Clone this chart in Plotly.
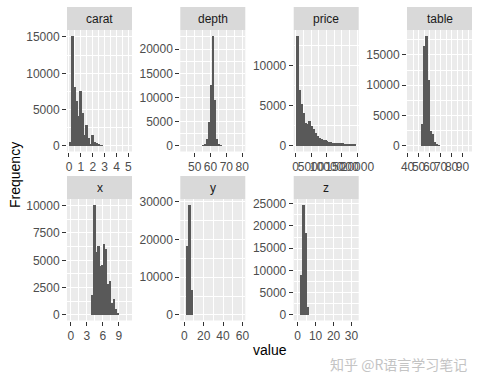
import math
import plotly.graph_objects as go

# ---------------- data ----------------
panels = ["carat", "depth", "price", "table", "x", "y", "z"]

# data range of each variable (used for ggplot-like 30-bin breaks)
range_carat = [0.2, 5.01]
range_depth = [43.0, 79.0]
range_price = [326.0, 18823.0]
range_table = [43.0, 95.0]
range_x = [0.0, 10.74]
range_y = [0.0, 58.9]
range_z = [0.0, 31.8]

# bin counts (bins too small to be seen are 0)
counts_carat = [570, 15200, 8150, 6200, 4100, 7500, 4600, 1550, 2900, 1100,
                300, 1450, 600, 350, 220, 120, 60, 0, 0, 0,
                0, 0, 0, 0, 0, 0, 0, 0, 0, 0]
counts_depth = [0, 0, 0, 0, 0, 0, 0, 0, 0, 0,
                150, 500, 1500, 4900, 12600, 22800, 9500, 1400, 500, 150,
                0, 0, 0, 0, 0, 0, 0, 0, 0, 0]
counts_price = [13700, 6950, 5250, 4150, 2850, 2750, 3150, 2500, 2100, 1650,
                1300, 1050, 880, 760, 680, 560, 500, 450, 420, 400,
                380, 350, 330, 310, 300, 280, 260, 250, 240, 220]
counts_table = [0, 0, 0, 0, 0, 0, 3600, 16500, 18200, 10900,
                2500, 2050, 700, 250, 100, 0, 0, 0, 0, 0,
                0, 0, 0, 0, 0, 0, 0, 0, 0, 0]
counts_x = [0, 0, 0, 0, 0, 0, 0, 0, 0, 0,
            0, 1800, 10100, 5800, 6300, 4500, 4550, 6500, 6000, 2800,
            3100, 1050, 1450, 550, 150, 0, 0, 0, 0, 0]
counts_y = [0, 0, 18400, 29300, 6500, 0, 0, 0, 0, 0,
            0, 0, 0, 0, 0, 0, 0, 0, 0, 0,
            0, 0, 0, 0, 0, 0, 0, 0, 0, 0]
counts_z = [0, 0, 8900, 24800, 18500, 1900, 0, 0, 0, 0,
            0, 0, 0, 0, 0, 0, 0, 0, 0, 0,
            0, 0, 0, 0, 0, 0, 0, 0, 0, 0]

xtick_carat = [0, 1, 2, 3, 4, 5]
xtick_depth = [50, 60, 70, 80]
xtick_price = [0, 5000, 10000, 15000, 20000]
xtick_table = [40, 50, 60, 70, 80, 90]
xtick_x = [0, 3, 6, 9]
xtick_y = [0, 20, 40, 60]
xtick_z = [0, 10, 20, 30]

ytick_carat = [0, 5000, 10000, 15000]
ytick_depth = [0, 5000, 10000, 15000, 20000]
ytick_price = [0, 5000, 10000]
ytick_table = [0, 5000, 10000, 15000]
ytick_x = [0, 2500, 5000, 7500, 10000]
ytick_y = [0, 10000, 20000, 30000]
ytick_z = [0, 5000, 10000, 15000, 20000, 25000]

ranges = [range_carat, range_depth, range_price, range_table, range_x, range_y, range_z]
counts = [counts_carat, counts_depth, counts_price, counts_table, counts_x, counts_y, counts_z]
xticks = [xtick_carat, xtick_depth, xtick_price, xtick_table, xtick_x, xtick_y, xtick_z]
yticks = [ytick_carat, ytick_depth, ytick_price, ytick_table, ytick_x, ytick_y, ytick_z]

# ---------------- layout geometry (pixels) ----------------
W, H = 480, 384
col_x = [(67, 132), (180.3, 245.3), (293.7, 358.7), (407, 472)]
row_panel = [(30, 151.5), (199, 320.5)]
row_strip = [(7, 30), (176, 199)]

BAR = "#595959"
PANEL = "#EBEBEB"
STRIP = "#D9D9D9"
TICKTXT = "#4D4D4D"
FONT = "Liberation Sans, Arial, sans-serif"


def px_x(p):
    return p / W


def px_y(p):
    return 1 - p / H


def gg_breaks(rng, bins=30):
    width = (rng[1] - rng[0]) / (bins - 1)
    boundary = width / 2
    shift = math.floor((rng[0] - boundary) / width)
    origin = boundary + shift * width
    max_x = rng[1] + (1 - 1e-8) * width
    n = int(math.floor((max_x - origin) / width)) + 1
    return [origin + i * width for i in range(n)], width


def minor_of(major, lo, hi):
    step = major[1] - major[0]
    b = list(major)
    if b[0] > lo:
        b = [b[0] - step] + b
    if b[-1] < hi:
        b = b + [b[-1] + step]
    mids = [(b[i] + b[i + 1]) / 2 for i in range(len(b) - 1)]
    return [m for m in mids if lo <= m <= hi]


fig = go.Figure()
layout = {}
shapes = []
annotations = []

for i, name in enumerate(panels):
    r, c = divmod(i, 4)
    edges, bw = gg_breaks(ranges[i])
    cnt = counts[i]
    nb = len(edges) - 1
    cnt = (cnt + [0] * nb)[:nb]
    centers = [(edges[k] + edges[k + 1]) / 2 for k in range(nb)]
    sfx = "" if i == 0 else str(i + 1)
    fig.add_trace(go.Bar(
        x=centers, y=cnt, width=[bw] * nb,
        marker=dict(color=BAR, line=dict(width=0)),
        xaxis="x" + sfx, yaxis="y" + sfx, showlegend=False,
        hoverinfo="x+y",
    ))
    xlo, xhi = edges[0], edges[-1]
    xpad = (xhi - xlo) * 0.05
    xr = [xlo - xpad, xhi + xpad]
    ymax = max(cnt)
    yr = [-0.05 * ymax, 1.05 * ymax]
    x0, x1 = col_x[c]
    y0, y1 = row_panel[r]
    common = dict(
        showgrid=True, gridcolor="white", gridwidth=1.1,
        zeroline=False, showline=False, automargin=False,
        ticks="outside", ticklen=4, tickwidth=1, tickcolor="#333333",
        tickfont=dict(family=FONT, size=12, color=TICKTXT),
        tickangle=0, tickmode="array", fixedrange=True,
    )
    layout["xaxis" + sfx] = dict(
        common, domain=[px_x(x0), px_x(x1)], range=xr,
        anchor="y" + sfx, tickvals=xticks[i],
        ticktext=[str(v) for v in xticks[i]],
        minor=dict(tickmode="array", tickvals=minor_of(xticks[i], xr[0], xr[1]),
                   showgrid=True, gridcolor="white", gridwidth=0.5, ticks=""),
    )
    layout["yaxis" + sfx] = dict(
        common, domain=[px_y(y1), px_y(y0)], range=yr,
        anchor="x" + sfx, tickvals=yticks[i],
        ticktext=[str(v) for v in yticks[i]],
        minor=dict(tickmode="array", tickvals=minor_of(yticks[i], yr[0], yr[1]),
                   showgrid=True, gridcolor="white", gridwidth=0.5, ticks=""),
    )
    s0, s1 = row_strip[r]
    shapes.append(dict(type="rect", xref="paper", yref="paper",
                       x0=px_x(x0), x1=px_x(x1), y0=px_y(s1), y1=px_y(s0),
                       fillcolor=STRIP, line=dict(width=0), layer="below"))
    annotations.append(dict(text=name, xref="paper", yref="paper",
                            x=px_x((x0 + x1) / 2), y=px_y((s0 + s1) / 2),
                            xanchor="center", yanchor="middle", showarrow=False,
                            font=dict(family=FONT, size=12, color="#1A1A1A")))

annotations.append(dict(text="Frequency", xref="paper", yref="paper",
                        x=px_x(15), y=px_y(175), textangle=-90,
                        xanchor="center", yanchor="middle", showarrow=False,
                        font=dict(family=FONT, size=14, color="black")))
annotations.append(dict(text="value", xref="paper", yref="paper",
                        x=px_x(269.5), y=px_y(350),
                        xanchor="center", yanchor="middle", showarrow=False,
                        font=dict(family=FONT, size=14, color="black")))
annotations.append(dict(text="知乎 @R语言学习笔记", xref="paper", yref="paper",
                        x=px_x(398), y=px_y(364),
                        xanchor="center", yanchor="middle", showarrow=False,
                        font=dict(family="Noto Sans CJK SC", size=14, color="#C4C4C4")))

fig.update_layout(
    width=W, height=H,
    margin=dict(l=0, r=0, t=0, b=0, autoexpand=False),
    paper_bgcolor="white", plot_bgcolor=PANEL,
    bargap=0, barmode="overlay",
    shapes=shapes, annotations=annotations,
    **layout,
)

fig.write_html("out.html", config={"displayModeBar": False})
